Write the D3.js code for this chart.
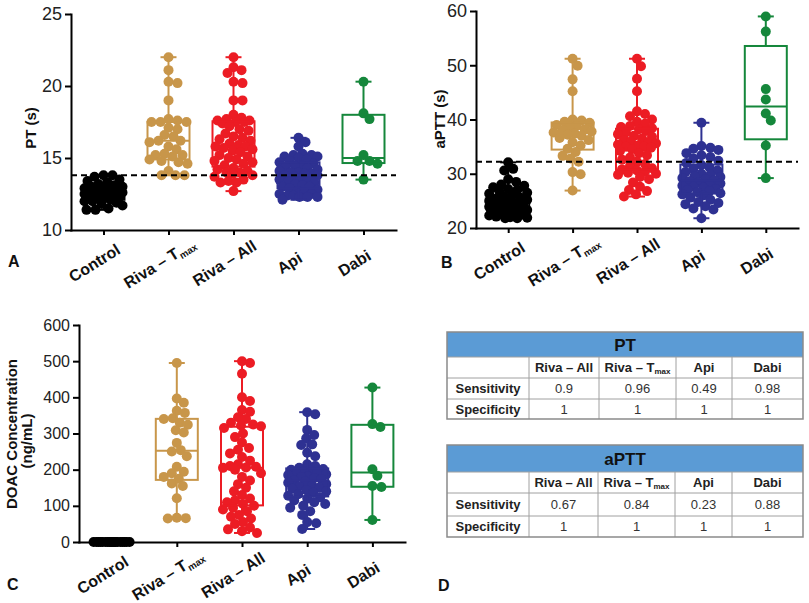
<!DOCTYPE html>
<html><head><meta charset="utf-8">
<script src="https://cdn.jsdelivr.net/npm/d3@7"></script>
<style>
body{margin:0;background:#fff}
svg{display:block}
text{font-family:"Liberation Sans",Arial,Helvetica,sans-serif}
</style>
</head><body>
<svg id="c" width="809" height="603"></svg>
<script>
// ---------------- DATA ----------------
const categories = ["Control", "Riva – Tmax", "Riva – All", "Api", "Dabi"];
const groupColors = ["#000000", "#c8964a", "#ec1c24", "#2e3192", "#15873b"];

const ptTicks = [10, 15, 20, 25];
const apttTicks = [20, 30, 40, 50, 60];
const doacTicks = [0, 100, 200, 300, 400, 500, 600];
const ptCutoff = 13.8;
const apttCutoff = 32.2;

// Panel A – PT (s)
const ptControl = [13.8,13.8,13.7,13.5,13.4,13.3,13.2,13.1,13.0,13.0,12.9,12.8,12.8,12.7,12.7,12.6,12.6,12.5,12.5,12.5,12.4,12.4,12.3,12.3,12.2,12.2,12.1,12.0,12.0,11.9,11.8,11.7,11.5,11.4,11.4];
const ptRivaTmax = [22.0,21.1,20.3,20.2,19.0,17.7,17.6,17.5,17.5,17.5,17.1,17.0,16.6,16.5,16.2,16.2,16.1,15.8,15.6,15.3,15.2,15.2,15.1,14.9,14.8,14.7,14.6,14.1,13.8,13.8,13.8];
const ptRivaAll = [22.0,21.3,21.1,20.9,20.3,20.2,19.0,19.0,18.0,17.8,17.7,17.6,17.6,17.5,17.5,17.4,17.2,17.0,16.9,16.7,16.5,16.4,16.3,16.2,16.0,15.9,15.8,15.8,15.7,15.6,15.5,15.4,15.2,15.1,15.0,14.9,14.8,14.7,14.6,14.5,14.3,14.2,14.1,14.0,14.0,13.9,13.8,13.7,13.5,13.4,13.3,13.3,12.7];
const ptApi = [16.4,16.1,15.8,15.3,15.2,15.2,15.1,15.1,15.0,14.9,14.8,14.7,14.6,14.5,14.5,14.4,14.3,14.2,14.1,14.0,14.0,13.9,13.9,13.8,13.8,13.7,13.6,13.5,13.5,13.4,13.3,13.2,13.1,13.0,13.0,12.9,12.8,12.7,12.6,12.5,12.5,12.4,12.4,12.3,12.3,12.3,12.1];
const ptDabi = [20.3,18.1,17.7,15.2,14.8,14.8,14.6,13.5];

// Panel B – aPTT (s)
const apttControl = [32.1,30.9,30.6,29.0,28.5,28.0,27.8,27.5,27.2,27.0,26.8,26.5,26.3,26.0,25.8,25.6,25.4,25.2,25.0,24.8,24.6,24.5,24.3,24.2,24.0,23.9,23.8,23.6,23.5,23.3,23.2,23.0,22.8,22.6,22.5,22.3,22.1,22.0,21.9,21.8,21.8];
const apttRivaTmax = [51.2,49.9,47.4,45.2,40.0,39.8,39.6,39.4,39.0,38.8,38.5,38.2,38.0,37.8,37.6,37.4,37.2,37.0,36.6,36.2,35.8,35.2,34.6,34.0,33.3,32.8,32.2,30.3,29.9,26.9];
const apttRivaAll = [51.2,49.8,47.5,45.2,41.5,41.0,40.6,40.0,39.6,39.2,38.8,38.6,38.4,38.2,37.9,37.6,37.3,37.0,36.8,36.5,36.2,36.0,35.8,35.6,35.4,35.2,35.0,35.0,34.8,34.5,34.2,33.8,33.4,33.0,32.6,32.2,31.8,31.4,31.0,30.8,30.6,30.4,30.2,30.0,29.8,29.4,29.0,28.4,27.6,27.0,26.8,26.2,25.8];
const apttApi = [39.4,35.1,34.8,34.6,34.4,33.8,33.4,33.1,32.8,32.4,32.0,31.6,31.2,30.9,30.6,30.3,30.0,29.8,29.6,29.4,29.2,29.0,28.8,28.6,28.4,28.2,28.0,27.8,27.6,27.4,27.2,27.0,26.8,26.6,26.4,26.2,26.0,25.6,25.2,24.8,24.6,24.4,24.0,23.6,23.4,21.8];
const apttDabi = [59.0,56.2,45.6,43.7,41.1,39.8,35.2,29.2];

// Panel C – DOAC concentration (ng/mL)
const doacControl = [0,0,0,0,0,0,0,0,0,0,0,0,0,0,0,0,0,0,0,0];
const doacRivaTmax = [495,397,385,363,357,342,340,330,324,309,303,274,254,250,237,208,194,190,180,175,162,155,121,67,66,65];
const doacRivaAll = [500,495,465,400,390,365,360,345,340,330,325,322,320,315,300,290,275,260,255,245,235,225,215,210,208,206,205,200,190,180,170,160,150,140,130,120,115,110,105,100,95,90,85,75,70,65,55,50,40,35,30,25];
const doacApi = [359,353,310,296,287,270,268,247,237,215,210,205,202,200,198,195,192,190,187,185,182,180,177,174,170,167,164,160,157,154,150,147,144,140,136,132,128,124,120,115,110,105,100,95,85,75,55,52,36];
const doacDabi = [427,326,318,201,183,155,152,61];

// Panel D – tables
const tableCols = ["Riva – All", "Riva – Tmax", "Api", "Dabi"];
const tableRows = ["Sensitivity", "Specificity"];
const ptSensitivity = [0.9, 0.96, 0.49, 0.98];
const ptSpecificity = [1, 1, 1, 1];
const apttSensitivity = [0.67, 0.84, 0.23, 0.88];
const apttSpecificity = [1, 1, 1, 1];

// ---------------- DRAWING ----------------
const svg = d3.select("#c");
const FONT = '"Liberation Sans",Arial,Helvetica,sans-serif';
const R = 5;

function gpQuantile(sorted, p) {
  const n = sorted.length;
  const pos = p * (n + 1);
  if (pos <= 1) return sorted[0];
  if (pos >= n) return sorted[n - 1];
  const lo = Math.floor(pos), f = pos - lo;
  return sorted[lo - 1] + f * (sorted[lo] - sorted[lo - 1]);
}

function swarm(values, y, minD, maxW) {
  const pts = values.map(v => ({ v, py: y(v) })).sort((a, b) => a.py - b.py);
  const placed = [];
  const offs = [0];
  for (let k = 1; k <= maxW; k++) { offs.push(k, -k); }
  pts.forEach(p => {
    let best = 0, bestD = -1;
    for (const o of offs) {
      let md = Infinity;
      for (const q of placed) {
        const dy = q.py - p.py;
        if (Math.abs(dy) >= minD) continue;
        const d = Math.hypot(q.off - o, dy);
        if (d < md) md = d;
      }
      if (md >= minD) { best = o; bestD = md; break; }
      if (md > bestD) { bestD = md; best = o; }
    }
    p.off = best;
    placed.push(p);
  });
  return pts;
}

function labelText(sel, name, size) {
  const m = name.match(/^(.*T)max$/);
  if (m) {
    sel.append("tspan").text(m[1]);
    sel.append("tspan").text("max").attr("font-size", size * 0.6).attr("dy", 3);
  } else {
    sel.text(name);
  }
}

function drawPanel(cfg) {
  const x = d3.scalePoint().domain(categories).range(cfg.xr).padding(0.5);
  const y = d3.scaleLinear().domain(cfg.domain).range(cfg.yr);
  const g = svg.append("g");

  const ya = g.append("g").attr("transform", `translate(${cfg.xr[0]},0)`)
    .call(d3.axisLeft(y).tickValues(cfg.ticks).tickSize(6).tickSizeOuter(0).tickPadding(3));
  ya.select(".domain").attr("stroke", "#000").attr("stroke-width", 2).attr("stroke-linecap", "square");
  ya.selectAll(".tick line").attr("stroke", "#000").attr("stroke-width", 2);
  ya.selectAll(".tick text").attr("font-size", cfg.tickFont).attr("fill", "#222").attr("font-family", FONT);

  const xa = g.append("g").attr("transform", `translate(0,${cfg.yr[0]})`)
    .call(d3.axisBottom(x).tickSize(5).tickSizeOuter(0).tickFormat(""));
  xa.select(".domain").attr("stroke", "#000").attr("stroke-width", 2).attr("stroke-linecap", "square");
  xa.selectAll(".tick line").attr("stroke", "#000").attr("stroke-width", 2);

  categories.forEach((c, i) => {
    const t = g.append("text")
      .attr("transform", `translate(${x(c) - 9},${cfg.yr[0] + 33}) rotate(-32)`)
      .attr("text-anchor", "middle").attr("dy", "0.35em")
      .attr("font-size", 16).attr("font-weight", "bold").attr("fill", "#111");
    labelText(t, c, 16);
  });

  cfg.groups.forEach((vals, i) => {
    const c = categories[i];
    const cx = x(c);
    const col = groupColors[i];
    const pts = swarm(vals, y, 8.2, 19);
    g.append("g").selectAll("circle").data(pts).join("circle")
      .attr("cx", d => cx + d.off).attr("cy", d => d.py).attr("r", R).attr("fill", col);
    const s = vals.slice().sort((a, b) => a - b);
    const q1 = gpQuantile(s, 0.25), med = gpQuantile(s, 0.5), q3 = gpQuantile(s, 0.75);
    const mn = s[0], mx = s[s.length - 1];
    const bw = 21, cw = 8;
    const bx = g.append("g").attr("stroke", col).attr("stroke-width", 2).attr("fill", "none");
    bx.append("rect").attr("x", cx - bw).attr("width", bw * 2).attr("y", y(q3)).attr("height", y(q1) - y(q3));
    bx.append("line").attr("x1", cx - bw).attr("x2", cx + bw).attr("y1", y(med)).attr("y2", y(med));
    bx.append("line").attr("x1", cx).attr("x2", cx).attr("y1", y(q3)).attr("y2", y(mx));
    bx.append("line").attr("x1", cx).attr("x2", cx).attr("y1", y(q1)).attr("y2", y(mn));
    bx.append("line").attr("x1", cx - cw).attr("x2", cx + cw).attr("y1", y(mx)).attr("y2", y(mx));
    bx.append("line").attr("x1", cx - cw).attr("x2", cx + cw).attr("y1", y(mn)).attr("y2", y(mn));
  });

  if (cfg.cutoff != null) {
    g.append("line").attr("x1", cfg.xr[0]).attr("x2", cfg.xr[1])
      .attr("y1", y(cfg.cutoff)).attr("y2", y(cfg.cutoff))
      .attr("stroke", "#000").attr("stroke-width", 2).attr("stroke-dasharray", "6,4");
  }

  cfg.titles.forEach(tt => {
    g.append("text").attr("transform", `translate(${tt.x},${tt.y}) rotate(-90)`)
      .attr("text-anchor", "middle").attr("dy", "0.35em")
      .attr("font-size", 15).attr("font-weight", "bold").attr("fill", "#111").text(tt.text);
  });
}

drawPanel({
  groups: [ptControl, ptRivaTmax, ptRivaAll, ptApi, ptDabi],
  ticks: ptTicks, domain: [10, 25], xr: [71, 396], yr: [230, 14], tickFont: 18,
  cutoff: ptCutoff, titles: [{ text: "PT (s)", x: 31, y: 128 }]
});
drawPanel({
  groups: [apttControl, apttRivaTmax, apttRivaAll, apttApi, apttDabi],
  ticks: apttTicks, domain: [20, 60], xr: [476, 798], yr: [228, 11], tickFont: 18,
  cutoff: apttCutoff, titles: [{ text: "aPTT (s)", x: 440, y: 119 }]
});
drawPanel({
  groups: [doacControl, doacRivaTmax, doacRivaAll, doacApi, doacDabi],
  ticks: doacTicks, domain: [0, 600], xr: [79, 405], yr: [542, 325], tickFont: 16,
  cutoff: null, titles: [{ text: "DOAC Concentration", x: 12, y: 434 }, { text: "(ng/mL)", x: 27, y: 441 }]
});

// panel letters
[["A", 8, 267], ["B", 441, 268], ["C", 7, 590], ["D", 438, 591]].forEach(([t, lx, ly]) => {
  svg.append("text").attr("x", lx).attr("y", ly).attr("font-size", 16).attr("font-weight", "bold").attr("fill", "#111").text(t);
});

// tables
function drawTable(title, sens, spec, colX, rowY) {
  const g = svg.append("g");
  const x0 = colX[0], x1 = colX[colX.length - 1];
  g.append("rect").attr("x", x0).attr("y", rowY[0]).attr("width", x1 - x0).attr("height", rowY[1] - rowY[0])
    .attr("fill", "#5b9bd5");
  rowY.slice(1, -1).forEach(yy => g.append("line").attr("x1", x0).attr("x2", x1).attr("y1", yy).attr("y2", yy)
    .attr("stroke", "#a0a0a0").attr("stroke-width", 1));
  colX.slice(1, -1).forEach(xx => g.append("line").attr("x1", xx).attr("x2", xx).attr("y1", rowY[1]).attr("y2", rowY[rowY.length - 1])
    .attr("stroke", "#a0a0a0").attr("stroke-width", 1));
  g.append("rect").attr("x", x0).attr("y", rowY[0]).attr("width", x1 - x0).attr("height", rowY[rowY.length - 1] - rowY[0])
    .attr("fill", "none").attr("stroke", "#8a8a8a").attr("stroke-width", 1.5);
  g.append("text").attr("x", (x0 + x1) / 2).attr("y", (rowY[0] + rowY[1]) / 2).attr("dy", "0.36em")
    .attr("text-anchor", "middle").attr("font-size", 17).attr("font-weight", "bold").attr("fill", "#111").text(title);
  const cx = i => (colX[i] + colX[i + 1]) / 2;
  const cy = j => (rowY[j] + rowY[j + 1]) / 2;
  tableCols.forEach((c, i) => {
    const t = g.append("text").attr("x", cx(i + 1)).attr("y", cy(1)).attr("dy", "0.36em")
      .attr("text-anchor", "middle").attr("font-size", 13).attr("font-weight", "bold").attr("fill", "#222");
    const m = c.match(/^(.*T)max$/);
    if (m) {
      t.append("tspan").text(m[1]);
      t.append("tspan").text("max").attr("font-size", 8).attr("dy", 2);
    } else t.text(c);
  });
  [sens, spec].forEach((vals, j) => {
    g.append("text").attr("x", cx(0)).attr("y", cy(j + 2)).attr("dy", "0.36em")
      .attr("text-anchor", "middle").attr("font-size", 13).attr("font-weight", "bold").attr("fill", "#222").text(tableRows[j]);
    vals.forEach((v, i) => {
      g.append("text").attr("x", cx(i + 1)).attr("y", cy(j + 2)).attr("dy", "0.36em")
        .attr("text-anchor", "middle").attr("font-size", 13).attr("fill", "#333").text(String(v));
    });
  });
}
drawTable("PT", ptSensitivity, ptSpecificity, [447, 529, 599, 676, 732, 803], [332, 357, 378, 399, 419]);
drawTable("aPTT", apttSensitivity, apttSpecificity, [447, 529, 598, 675, 732, 803], [445, 472, 493, 516, 537]);
</script>
</body></html>
